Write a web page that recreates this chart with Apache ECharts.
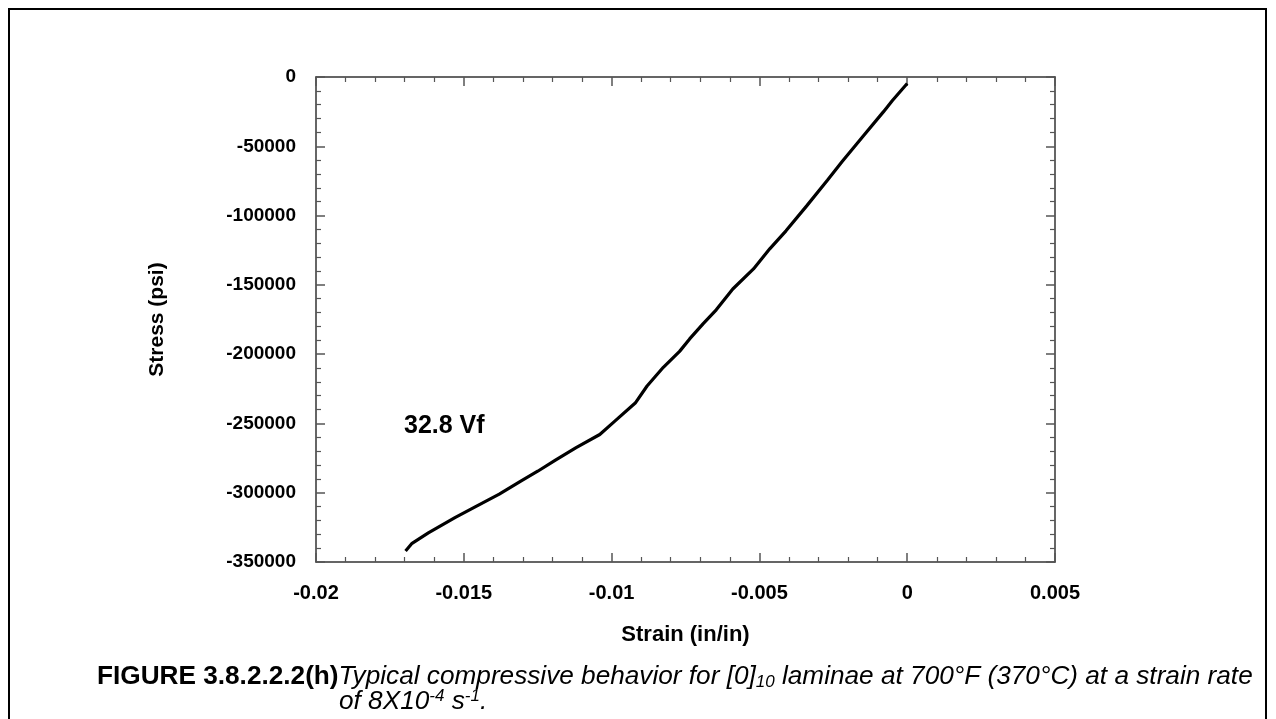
<!DOCTYPE html>
<html>
<head>
<meta charset="utf-8">
<script src="https://cdn.jsdelivr.net/npm/echarts@6/dist/echarts.min.js"></script>
<style>
  html, body { margin: 0; padding: 0; background: #fff; }
  #chart { width: 1276px; height: 719px; }
</style>
</head>
<body>
<div id="chart"></div>
<script>
// strain (in/in), from the origin down to failure
const strain = [0, -0.0005, -0.0008, -0.0015, -0.0022, -0.0027, -0.0034, -0.0041, -0.00465, -0.0052,
  -0.0059, -0.00646, -0.0069, -0.00736, -0.0077, -0.00825, -0.0088, -0.0092, -0.0099, -0.0104,
  -0.0112, -0.0119, -0.0125, -0.0131, -0.0138, -0.0146, -0.0153, -0.0162, -0.01675, -0.01697]
// stress (psi) at the same points
const stress = [-4700, -17000, -25000, -43000, -61000, -74500, -93000, -111000, -124000, -138500,
  -153000, -168000, -178000, -189000, -198000, -209500, -223000, -235300, -248500, -258000,
  -267500, -276500, -284500, -292000, -301000, -310000, -318000, -329000, -336500, -342000]

const xTicks = [-0.02, -0.015, -0.01, -0.005, 0, 0.005]
const yTicks = [0, -50000, -100000, -150000, -200000, -250000, -300000, -350000]

const font = 'Liberation Sans, Arial, sans-serif'
const lineCol = '#333'
const tickCol = '#555'

// x axis (bottom has labels, top only ticks)
const xBase = {
  type: 'value',
  min: xTicks[0],
  max: xTicks[xTicks.length - 1],
  interval: 0.005,
  axisLine: { show: true, onZero: false, lineStyle: { color: lineCol, width: 1.5 } },
  axisTick: { show: true, inside: true, length: 9, lineStyle: { color: tickCol, width: 1.5 } },
  minorTick: { show: true, splitNumber: 5, length: 5, lineStyle: { color: tickCol, width: 1.2 } },
  splitLine: { show: false }
}
const yBase = {
  type: 'value',
  min: yTicks[yTicks.length - 1],
  max: yTicks[0],
  interval: 50000,
  axisLine: { show: true, onZero: false, lineStyle: { color: lineCol, width: 1.5 } },
  axisTick: { show: true, inside: true, length: 9, lineStyle: { color: tickCol, width: 1.5 } },
  minorTick: { show: true, splitNumber: 5, length: 5, lineStyle: { color: tickCol, width: 1.2 } },
  splitLine: { show: false }
}

const chart = echarts.init(document.getElementById('chart'))
const option = {
  backgroundColor: '#fff',
  animation: false,
  grid: { left: 316, right: 221, top: 77, bottom: 157 },
  xAxis: [
    Object.assign({}, xBase, {
      position: 'bottom',
      name: 'Strain (in/in)',
      nameLocation: 'middle',
      nameGap: 62,
      nameTextStyle: { fontFamily: font, fontWeight: 'bold', fontSize: 22, color: '#000' },
      axisLabel: {
        margin: 21, fontFamily: font, fontWeight: 'bold', fontSize: 20, color: '#000',
        formatter: v => String(+v.toFixed(3))
      }
    }),
    Object.assign({}, xBase, { position: 'top', axisLabel: { show: false } })
  ],
  yAxis: [
    Object.assign({}, yBase, {
      position: 'left',
      name: 'Stress (psi)',
      nameLocation: 'middle',
      nameGap: 148,
      nameRotate: 90,
      nameTextStyle: { fontFamily: font, fontWeight: 'bold', fontSize: 21, color: '#000' },
      axisLabel: {
        margin: 20, fontFamily: font, fontWeight: 'bold', fontSize: 19, color: '#000',
        formatter: v => String(v)
      }
    }),
    Object.assign({}, yBase, { position: 'right', axisLabel: { show: false } })
  ],
  series: [{
    type: 'line',
    data: strain.map((s, i) => [s, stress[i]]),
    showSymbol: false,
    lineStyle: { color: '#000', width: 3.2 }
  }],
  graphic: [
    {
      type: 'rect',
      shape: { x: 9, y: 9, width: 1257, height: 720 },
      style: { fill: 'none', stroke: '#000', lineWidth: 2 },
      silent: true
    },
    {
      type: 'text', left: 404, top: 414,
      style: { text: '32.8 Vf', fontFamily: font, fontWeight: 'bold', fontSize: 25, fill: '#000' }
    },
    {
      type: 'text', left: 97, top: 664,
      style: {
        text: '{b|FIGURE 3.8.2.2.2(h)}{i|Typical compressive behavior for [0]}{sub|10}{i| laminae at 700°F (370°C) at a strain rate}',
        rich: {
          b: { fontFamily: font, fontWeight: 'bold', fontSize: 26.2, lineHeight: 28, fill: '#000' },
          i: { fontFamily: font, fontStyle: 'italic', fontSize: 26.2, lineHeight: 28, fill: '#000' },
          sub: { fontFamily: font, fontStyle: 'italic', fontSize: 17, lineHeight: 17, verticalAlign: 'bottom', fill: '#000' }
        }
      }
    },
    {
      type: 'text', left: 339, top: 688,
      style: {
        text: '{i|of 8X10}{sup|-4}{i| s}{sup|-1}{i|.}',
        rich: {
          i: { fontFamily: font, fontStyle: 'italic', fontSize: 26.2, lineHeight: 28, fill: '#000' },
          sup: { fontFamily: font, fontStyle: 'italic', fontSize: 17, lineHeight: 17, verticalAlign: 'top', fill: '#000' }
        }
      }
    }
  ]
}
chart.setOption(option)
</script>
</body>
</html>
